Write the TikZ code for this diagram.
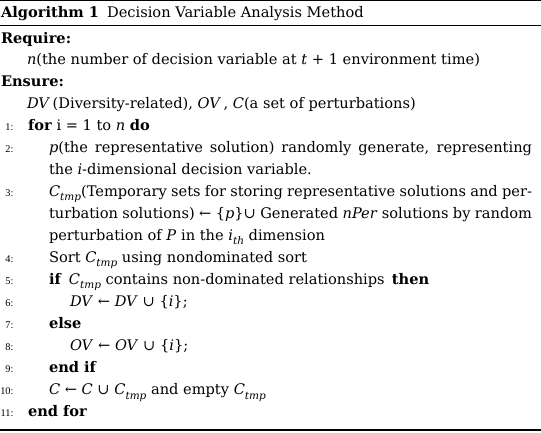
\documentclass[tikz,border=0pt]{standalone}
\usepackage{fontspec}
\setmainfont{DejaVu Serif}
\newfontfamily\numfontx{Liberation Serif}
\newcommand\tsubx[1]{\raisebox{-0.3em}{\fontsize{10.5bp}{12bp}\selectfont\itshape #1}}
\newcommand\Ctmpx{\textit{C}\tsubx{tmp}}
\begin{document}
\begin{tikzpicture}[x=1bp,y=-1bp,
  txt/.style={anchor=base west,inner sep=0pt,outer sep=0pt,font=\fontsize{14.6bp}{17bp}\selectfont},
  num/.style={anchor=base east,inner sep=0pt,outer sep=0pt,font=\numfontx\fontsize{10.3bp}{12bp}\selectfont},
  thickrule/.style={line width=1.2bp},
  thinrule/.style={line width=0.8bp}]
\useasboundingbox (0,0) rectangle (541,432);
% rules
\coordinate (tl) at (0,0.7);   \coordinate (tr) at (541,0.7);
\coordinate (ml) at (0,25.7);  \coordinate (mr) at (541,25.7);
\coordinate (bl) at (0,430);   \coordinate (br) at (541,430);
\draw[thickrule] (tl) -- (tr);
\draw[thinrule] (ml) -- (mr);
\draw[thickrule] (bl) -- (br);
% header
\node[txt] (alg) at (1,17) {\textbf{Algorithm 1}};
\node[txt,anchor=base west] (title) at ([xshift=8bp]alg.base east) {Decision Variable Analysis Method};
% require / ensure
\node[txt] (req) at (1,43) {\textbf{Require:}};
\node[txt] (reqa) at (27,64.05) {\textit{n}(the number of decision variable at \textit{t} + 1 environment time)};
\node[txt] (ens) at (1,86.1) {\textbf{Ensure:}};
\node[txt] (ensa) at (27,108.15) {\textit{DV}\,(Diversity-related), \textit{OV}\,, \textit{C}(a set of perturbations)};
% numbered lines
\node[num] (n1) at (13.5,130.2) {1:};
\node[txt] (l1) at (28,130.2) {\textbf{for} i = 1 to \textit{n} \textbf{do}};
\node[num] (n2) at (13.5,152.25) {2:};
\node[txt] (l2a) at (49,152.25) {\makebox[483bp][s]{\textit{p}(the representative solution) randomly generate, representing}};
\node[txt] (l2b) at (49,174.3) {the \textit{i}-dimensional decision variable.};
\node[num] (n3) at (13.5,196.35) {3:};
\node[txt] (l3a) at (49,196.35) {\makebox[483bp][s]{\Ctmpx(Temporary sets for storing representative solutions and per-}};
\node[txt] (l3b) at (49,218.4) {\makebox[483bp][s]{turbation solutions) ← \{\textit{p}\}∪ Generated \textit{nPer} solutions by random}};
\node[txt] (l3c) at (49,240.45) {perturbation of \textit{P} in the \textit{i}\tsubx{th} dimension};
\node[num] (n4) at (13.5,262.5) {4:};
\node[txt] (l4) at (49,262.5) {Sort \Ctmpx\ using nondominated sort};
\node[num] (n5) at (13.5,284.55) {5:};
\node[txt] (l5) at (49,284.55) {\textbf{if}\hspace{0.5em}\Ctmpx\ contains non-dominated relationships\hspace{0.5em}\textbf{then}};
\node[num] (n6) at (13.5,306.6) {6:};
\node[txt] (l6) at (70,306.6) {\textit{DV} ← \textit{DV} ∪ \{\textit{i}\};};
\node[num] (n7) at (13.5,328.65) {7:};
\node[txt] (l7) at (49,328.65) {\textbf{else}};
\node[num] (n8) at (13.5,350.7) {8:};
\node[txt] (l8) at (70,350.7) {\textit{OV} ← \textit{OV} ∪ \{\textit{i}\};};
\node[num] (n9) at (13.5,372.75) {9:};
\node[txt] (l9) at (49,372.75) {\textbf{end if}};
\node[num] (n10) at (13.5,394.8) {10:};
\node[txt] (l10) at (49,394.8) {\textit{C} ← \textit{C} ∪ \Ctmpx\ and empty \Ctmpx};
\node[num] (n11) at (13.5,416.85) {11:};
\node[txt] (l11) at (28,416.85) {\textbf{end for}};
\end{tikzpicture}
\end{document}
